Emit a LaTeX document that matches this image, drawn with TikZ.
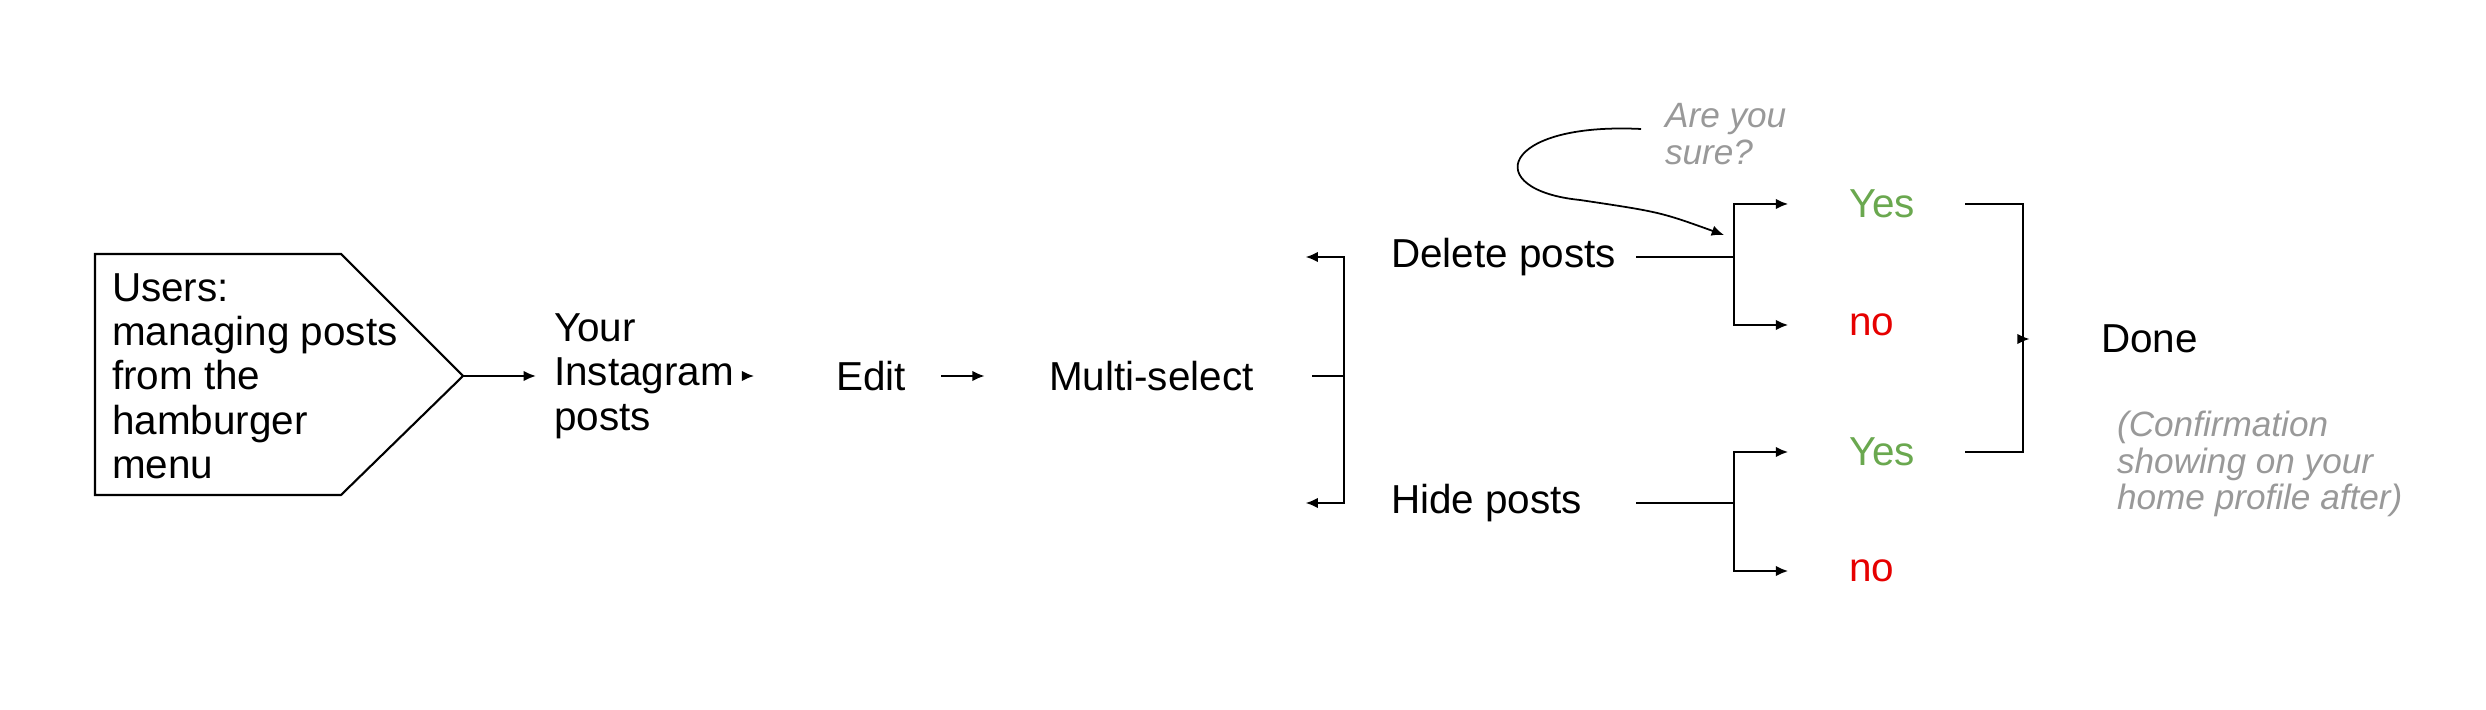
\documentclass[tikz,border=0pt]{standalone}
\usepackage{fontspec}
\setmainfont{Liberation Sans}
\usetikzlibrary{arrows.meta}
\definecolor{yesgreen}{RGB}{106,168,79}
\definecolor{nored}{RGB}{230,0,0}
\definecolor{notegray}{RGB}{153,153,153}
\tikzset{
  lbl/.style={anchor=west, inner sep=0pt, align=left, font=\fontsize{11.5}{12.6}\selectfont},
  note/.style={anchor=west, inner sep=0pt, align=left, text=notegray, font=\fontsize{10}{10.3}\selectfont\itshape},
  arr/.style={-{Latex[length=3.5pt,width=3pt]}},
}
\begin{document}
\begin{tikzpicture}[x=0.01cm, y=-0.01cm, line width=0.6pt]
  \useasboundingbox (0,0) rectangle (2486,710);

  % Startbox
  \draw (95,254) -- (341,254) -- (463,376) -- (341,495) -- (95,495) -- cycle;
  \coordinate (tip) at (463,376);
  \node[lbl] (users) at (111,376) {Users:\\managing posts\\from the\\hamburger\\menu};

  % Hauptkette
  \node[lbl] (insta) at (553,376) {Your\\Instagram\\posts};
  \node[lbl] (edit) at (835,376) {Edit};
  \node[lbl] (multi) at (1048,376) {Multi-select};
  \draw[arr] (tip) -- (536,376);
  \draw[arr] (748,376) -- ([xshift=-23]edit.west);
  \draw[arr] (941,376) -- ([xshift=-18]multi.west);

  % Verzweigung 1
  \node[lbl] (delete) at (1390,257) {Delete posts};
  \node[lbl] (hide) at (1390,503) {Hide posts};
  \coordinate (j1) at (1344,376);
  \draw (1312,376) -- (j1);
  \draw[arr] (j1) |- ([xshift=-24]delete.west);
  \draw[arr] (j1) |- ([xshift=-24]hide.west);

  % Verzweigung Delete
  \node[lbl] (yes1) at (1848,204) {\color{yesgreen}Yes};
  \node[lbl] (no1) at (1848,325) {\color{nored}no};
  \coordinate (j2) at (1734,257);
  \draw (1636,257) -- (j2);
  \draw[arr] (j2) |- ([xshift=-17]yes1.west);
  \draw[arr] (j2) |- ([xshift=-17]no1.west);

  % Verzweigung Hide
  \node[lbl] (yes2) at (1848,452) {\color{yesgreen}Yes};
  \node[lbl] (no2) at (1848,571) {\color{nored}no};
  \coordinate (j3) at (1734,503);
  \draw (1636,503) -- (j3);
  \draw[arr] (j3) |- ([xshift=-17]yes2.west);
  \draw[arr] (j3) |- ([xshift=-17]no2.west);

  % Zusammenfuehrung
  \node[lbl] (done) at (2100,339) {Done};
  \coordinate (j4) at (2023,339);
  \draw (1965,204) -| (2023,452) -- (1965,452);
  \draw[arr] (j4) -- ([xshift=-20]done.west);

  % Notizen
  \node[note] (sure) at (1664,134) {Are you\\sure?};
  \node[note] (confirm) at (2116,464) {(Confirmation\\showing on your\\home profile after)};
  \draw[arr, line width=0.5pt] (1641,129) .. controls (1500,122) and (1480,190) .. (1580,200)
    .. controls (1660,212) .. (1724,235);
\end{tikzpicture}
\end{document}
